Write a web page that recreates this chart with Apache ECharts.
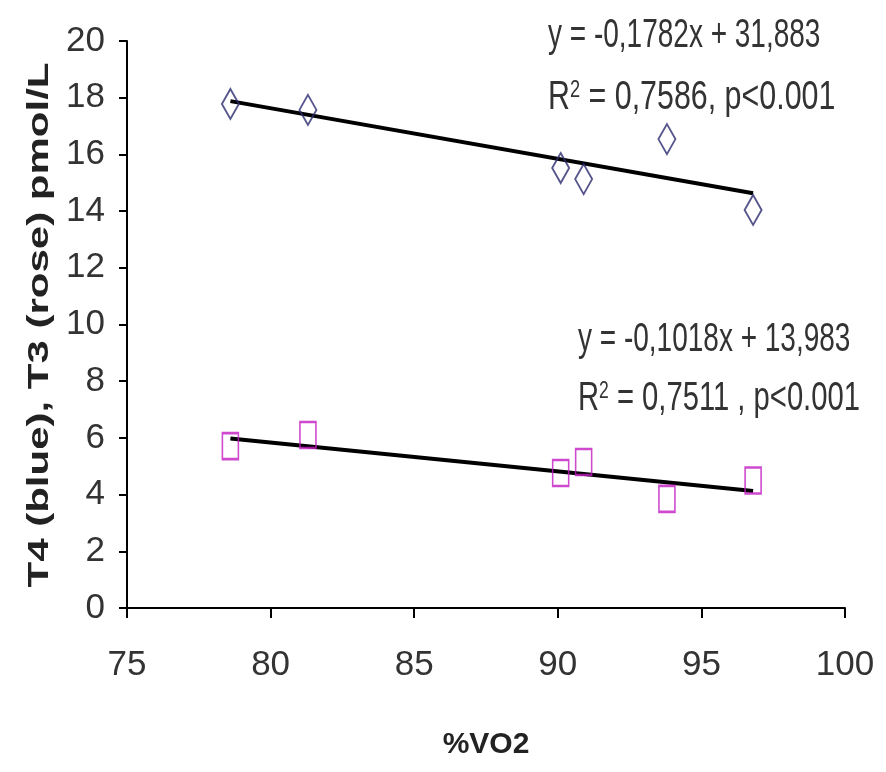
<!DOCTYPE html>
<html>
<head>
<meta charset="utf-8">
<script src="https://cdn.jsdelivr.net/npm/echarts@6/dist/echarts.min.js"></script>
<style>html,body{margin:0;padding:0;background:#fff}#c{width:886px;height:772px}</style>
</head>
<body>
<div id="c"></div>
<script>
// Data
const vo2 = [78.6, 81.3, 90.1, 90.9, 93.8, 96.8];
const t4 = [17.78, 17.57, 15.52, 15.13, 16.54, 14.04];
const t3 = [5.71, 6.10, 4.76, 5.15, 3.85, 4.50];
// Trendline endpoints (from equations shown in the picture)
const t4TrendX = [78.6, 96.8];
const t4TrendY = [17.88, 14.63];
const t3TrendX = [78.6, 96.8];
const t3TrendY = [5.98, 4.13];
const xTicks = [75, 80, 85, 90, 95, 100];
const yTicks = [0, 2, 4, 6, 8, 10, 12, 14, 16, 18, 20];

const zip = (a, b) => a.map((v, i) => [v, b[i]]);
const FONT = "'Liberation Sans', Arial, sans-serif";
const TXT = '#333';
const richEq = {
  a: { fontFamily: FONT, fontSize: 40, fill: TXT },
  s: { fontFamily: FONT, fontSize: 24, fill: TXT, verticalAlign: 'top', padding: [0, 0, 16, 0] }
};
const chart = echarts.init(document.getElementById('c'));
chart.setOption({
  animation: false,
  backgroundColor: '#fff',
  grid: { left: 127, right: 41, top: 41, bottom: 164 },
  xAxis: {
    type: 'value', min: 75, max: 100, interval: 5,
    name: '%VO2', nameLocation: 'middle', nameGap: 122,
    nameTextStyle: { fontFamily: FONT, fontWeight: 'bold', fontSize: 30, color: '#222' },
    axisLine: { show: true, onZero: false, lineStyle: { color: '#000', width: 2 } },
    axisTick: { show: true, length: 10, lineStyle: { color: '#000', width: 2 } },
    axisLabel: { fontFamily: FONT, fontSize: 35, color: TXT, margin: 40 },
    splitLine: { show: false }
  },
  yAxis: {
    type: 'value', min: 0, max: 20, interval: 2,
    axisLine: { show: true, lineStyle: { color: '#000', width: 2 } },
    axisTick: { show: true, length: 8, lineStyle: { color: '#000', width: 2 } },
    axisLabel: { fontFamily: FONT, fontSize: 35, color: TXT, margin: 22 },
    splitLine: { show: false }
  },
  series: [
    { type: 'line', data: zip(t4TrendX, t4TrendY), symbol: 'none', lineStyle: { color: '#000', width: 4 }, z: 2 },
    { type: 'line', data: zip(t3TrendX, t3TrendY), symbol: 'none', lineStyle: { color: '#000', width: 4 }, z: 2 },
    { type: 'scatter', data: zip(vo2, t4), symbol: 'diamond', symbolSize: [17, 30],
      itemStyle: { color: 'rgba(255,255,255,0)', borderColor: '#2c2c70', borderWidth: 2 }, z: 3 },
    { type: 'scatter', data: zip(vo2, t3), symbol: 'rect', symbolSize: [16, 26],
      itemStyle: { color: 'rgba(255,255,255,0)', borderColor: '#c21cc2', borderWidth: 2 }, z: 3 }
  ],
  graphic: [
    { type: 'text', x: 40, y: 325, rotation: Math.PI / 2, scaleX: 1.4,
      style: { text: 'T4 (blue), T3 (rose) pmol/L', font: "bold 30px " + FONT, fill: '#222', align: 'center', verticalAlign: 'middle' } },
    { type: 'text', x: 548, y: 16, scaleX: 0.70, style: { text: 'y = -0,1782x + 31,883', font: "40px " + FONT, fill: TXT } },
    { type: 'text', x: 548, y: 78, scaleX: 0.76, style: { text: '{a|R}{s|2}{a| = 0,7586, p<0.001}', rich: richEq } },
    { type: 'text', x: 578, y: 320, scaleX: 0.70, style: { text: 'y = -0,1018x + 13,983', font: "40px " + FONT, fill: TXT } },
    { type: 'text', x: 578, y: 379, scaleX: 0.73, style: { text: '{a|R}{s|2}{a| = 0,7511 , p<0.001}', rich: richEq } }
  ]
});
</script>
</body>
</html>
